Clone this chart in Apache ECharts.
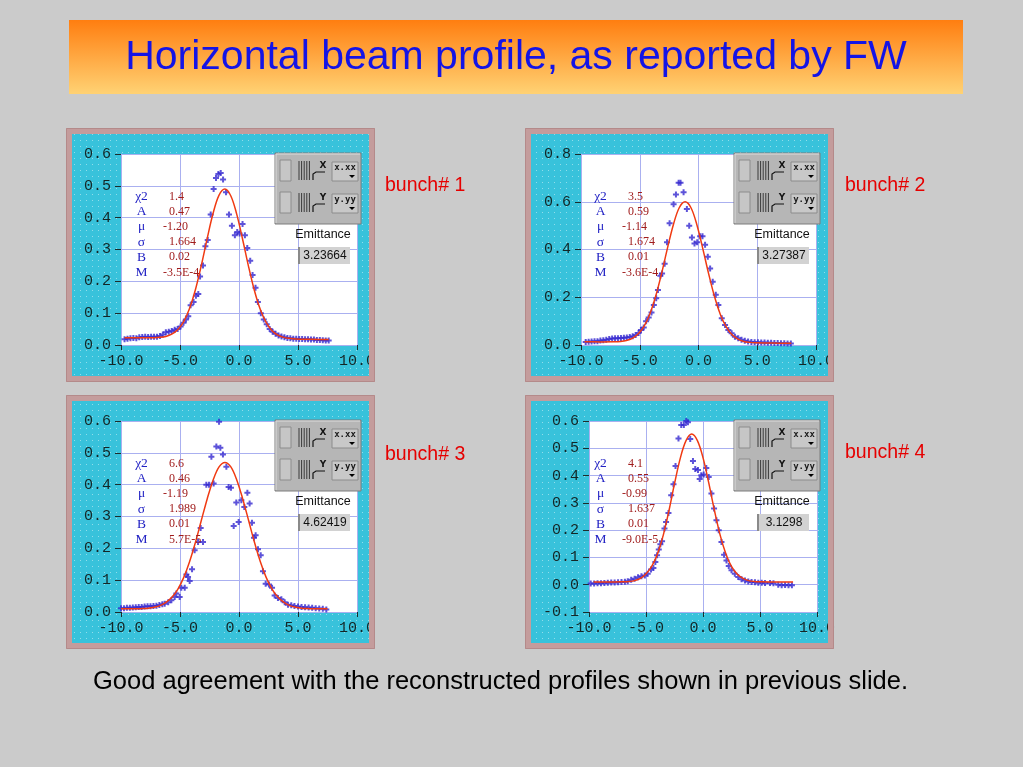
<!DOCTYPE html>
<html><head><meta charset="utf-8">
<script src="https://cdn.jsdelivr.net/npm/echarts@6/dist/echarts.min.js"></script>
<style>html,body{margin:0;padding:0;background:#cbcbcb;} #c{width:1023px;height:767px;}</style>
</head><body><div id="c"></div>
<script>
const titleText = "Horizontal beam profile, as reported by FW";
const footText = "Good agreement with the reconstructed profiles shown in previous slide.";
const bunchLabels = ["bunch# 1", "bunch# 2", "bunch# 3", "bunch# 4"];
const statNames = ["χ2", "A", "μ", "σ", "B", "M"];
const stats1 = ["1.4", "0.47", "-1.20", "1.664", "0.02", "-3.5E-4"];
const stats2 = ["3.5", "0.59", "-1.14", "1.674", "0.01", "-3.6E-4"];
const stats3 = ["6.6", "0.46", "-1.19", "1.989", "0.01", "5.7E-5"];
const stats4 = ["4.1", "0.55", "-0.99", "1.637", "0.01", "-9.0E-5"];
const emittanceLabel = "Emittance";
const emittance = ["3.23664", "3.27387", "4.62419", "3.1298"];
const xMin = -10, xMax = 10, xStep = 5;
const yMin = [0, 0, 0, -0.1];
const yMax = [0.6, 0.8, 0.6, 0.6];
const yStep = [0.1, 0.2, 0.1, 0.1];

const points1 = [[-9.7,0.018],[-9.45,0.020],[-9.2,0.021],[-8.95,0.022],[-8.7,0.021],[-8.45,0.024],[-8.2,0.025],[-7.95,0.026],[-7.7,0.025],[-7.45,0.026],[-7.2,0.026],[-6.95,0.026],[-6.7,0.028],[-6.45,0.033],[-6.2,0.040],[-5.95,0.042],[-5.7,0.044],[-5.45,0.048],[-5.2,0.050],[-4.95,0.058],[-4.7,0.070],[-4.5,0.080],[-4.3,0.090],[-4.1,0.125],[-3.85,0.135],[-3.65,0.155],[-3.45,0.160],[-3.3,0.215],[-3.05,0.250],[-2.85,0.310],[-2.65,0.330],[-2.4,0.410],[-2.15,0.490],[-1.95,0.525],[-1.75,0.537],[-1.55,0.540],[-1.35,0.520],[-1.1,0.480],[-0.85,0.410],[-0.6,0.375],[-0.35,0.345],[-0.15,0.355],[0.05,0.350],[0.3,0.380],[0.5,0.345],[0.7,0.305],[0.95,0.265],[1.15,0.220],[1.4,0.180],[1.6,0.135],[1.85,0.100],[2.1,0.080],[2.35,0.065],[2.6,0.050],[2.85,0.042],[3.1,0.035],[3.35,0.030],[3.6,0.027],[3.85,0.024],[4.1,0.022],[4.35,0.021],[4.6,0.020],[4.85,0.020],[5.1,0.019],[5.35,0.019],[5.6,0.018],[5.85,0.018],[6.1,0.017],[6.35,0.017],[6.6,0.016],[6.85,0.016],[7.1,0.015],[7.35,0.014],[7.6,0.014]];
const fit1 = [[-9.7,0.023],[-8.5,0.023],[-7.2,0.023],[-6.7,0.024],[-6.2,0.027],[-5.7,0.034],[-5.2,0.048],[-4.7,0.073],[-4.2,0.114],[-3.7,0.173],[-3.2,0.249],[-2.7,0.334],[-2.2,0.413],[-1.7,0.470],[-1.2,0.490],[-0.7,0.469],[-0.2,0.412],[0.3,0.333],[0.8,0.248],[1.3,0.172],[1.8,0.112],[2.3,0.071],[2.8,0.045],[3.3,0.031],[3.8,0.024],[4.3,0.021],[4.8,0.019],[6.2,0.018],[7.6,0.017]];

const points2 = [[-9.6,0.013],[-9.35,0.014],[-9.1,0.015],[-8.85,0.016],[-8.6,0.016],[-8.35,0.019],[-8.1,0.020],[-7.85,0.022],[-7.6,0.025],[-7.35,0.027],[-7.1,0.028],[-6.85,0.028],[-6.6,0.029],[-6.35,0.030],[-6.1,0.031],[-5.85,0.033],[-5.6,0.037],[-5.35,0.042],[-5.1,0.050],[-4.9,0.063],[-4.66,0.073],[-4.46,0.100],[-4.24,0.115],[-4.0,0.136],[-3.8,0.168],[-3.6,0.196],[-3.45,0.230],[-3.25,0.290],[-3.1,0.300],[-2.88,0.340],[-2.68,0.430],[-2.46,0.510],[-2.12,0.590],[-1.92,0.630],[-1.69,0.680],[-1.53,0.680],[-1.27,0.640],[-0.99,0.570],[-0.79,0.500],[-0.56,0.450],[-0.34,0.425],[-0.11,0.430],[0.14,0.455],[0.34,0.455],[0.56,0.420],[0.79,0.370],[0.99,0.320],[1.21,0.265],[1.47,0.210],[1.69,0.168],[1.98,0.112],[2.26,0.084],[2.54,0.063],[2.82,0.049],[3.1,0.035],[3.38,0.028],[3.66,0.022],[3.94,0.018],[4.22,0.015],[4.5,0.013],[4.78,0.012],[5.06,0.011],[5.34,0.010],[5.62,0.010],[5.9,0.009],[6.18,0.009],[6.46,0.008],[6.74,0.008],[7.02,0.007],[7.3,0.007],[7.58,0.006],[7.86,0.006]];
const fit2 = [[-9.7,0.0135],[-8.4,0.013],[-7.14,0.0136],[-6.64,0.015],[-6.14,0.019],[-5.64,0.028],[-5.14,0.046],[-4.64,0.078],[-4.14,0.130],[-3.64,0.205],[-3.14,0.300],[-2.64,0.406],[-2.14,0.504],[-1.64,0.575],[-1.14,0.600],[-0.64,0.575],[-0.14,0.504],[0.36,0.405],[0.86,0.299],[1.36,0.203],[1.86,0.128],[2.36,0.076],[2.86,0.043],[3.36,0.025],[3.86,0.015],[4.36,0.011],[4.86,0.009],[6.3,0.008],[7.9,0.007]];

const points3 = [[-10.0,0.012],[-9.75,0.012],[-9.5,0.013],[-9.25,0.013],[-9.0,0.014],[-8.75,0.015],[-8.5,0.016],[-8.25,0.016],[-8.0,0.017],[-7.75,0.018],[-7.5,0.018],[-7.25,0.019],[-7.0,0.020],[-6.75,0.022],[-6.5,0.024],[-6.3,0.026],[-6.0,0.031],[-5.73,0.037],[-5.45,0.047],[-5.31,0.058],[-5.03,0.047],[-4.89,0.076],[-4.6,0.076],[-4.46,0.118],[-4.32,0.110],[-4.18,0.097],[-3.98,0.134],[-3.76,0.194],[-3.47,0.220],[-3.25,0.264],[-3.05,0.220],[-2.77,0.400],[-2.54,0.400],[-2.34,0.488],[-2.15,0.404],[-1.92,0.520],[-1.69,0.598],[-1.58,0.516],[-1.36,0.495],[-1.07,0.456],[-0.88,0.393],[-0.68,0.390],[-0.45,0.270],[-0.23,0.344],[-0.03,0.283],[0.2,0.351],[0.45,0.330],[0.71,0.375],[0.9,0.341],[1.1,0.280],[1.27,0.233],[1.41,0.241],[1.61,0.197],[1.84,0.178],[2.03,0.128],[2.26,0.089],[2.54,0.086],[2.8,0.076],[3.02,0.052],[3.3,0.044],[3.59,0.040],[3.87,0.031],[4.15,0.023],[4.43,0.021],[4.7,0.019],[5.0,0.017],[5.3,0.016],[5.6,0.015],[5.9,0.014],[6.2,0.013],[6.5,0.012],[6.8,0.011],[7.1,0.010],[7.4,0.008]];
const fit3 = [[-10.0,0.010],[-8.69,0.010],[-8.19,0.011],[-7.69,0.012],[-7.19,0.015],[-6.69,0.020],[-6.19,0.030],[-5.69,0.046],[-5.19,0.071],[-4.69,0.108],[-4.19,0.158],[-3.69,0.219],[-3.19,0.288],[-2.69,0.356],[-2.19,0.415],[-1.69,0.456],[-1.19,0.470],[-0.69,0.456],[-0.19,0.415],[0.31,0.356],[0.81,0.288],[1.31,0.219],[1.81,0.158],[2.31,0.108],[2.81,0.071],[3.31,0.046],[3.81,0.030],[4.31,0.020],[4.81,0.015],[5.31,0.012],[5.81,0.011],[6.31,0.010],[7.5,0.010]];

const points4 = [[-9.85,0.004],[-9.55,0.004],[-9.25,0.005],[-8.95,0.005],[-8.65,0.006],[-8.35,0.007],[-8.05,0.008],[-7.75,0.008],[-7.45,0.009],[-7.15,0.010],[-6.85,0.011],[-6.6,0.013],[-6.3,0.018],[-6.0,0.022],[-5.7,0.027],[-5.4,0.031],[-5.1,0.034],[-4.85,0.040],[-4.56,0.056],[-4.35,0.061],[-4.18,0.083],[-4.03,0.108],[-3.88,0.129],[-3.74,0.148],[-3.59,0.159],[-3.38,0.206],[-3.24,0.230],[-3.03,0.263],[-2.79,0.328],[-2.59,0.368],[-2.41,0.435],[-2.15,0.536],[-1.91,0.585],[-1.68,0.585],[-1.47,0.600],[-1.32,0.595],[-1.12,0.534],[-0.88,0.453],[-0.68,0.424],[-0.44,0.420],[-0.29,0.387],[-0.15,0.401],[0.06,0.404],[0.29,0.428],[0.5,0.395],[0.74,0.334],[0.97,0.279],[1.18,0.236],[1.38,0.200],[1.62,0.157],[1.85,0.110],[2.06,0.089],[2.26,0.069],[2.5,0.053],[2.79,0.040],[3.09,0.028],[3.38,0.020],[3.68,0.015],[3.97,0.012],[4.26,0.010],[4.56,0.009],[4.85,0.007],[5.15,0.007],[5.44,0.006],[5.88,0.006],[6.18,0.005],[6.6,0.000],[6.9,-0.002],[7.2,-0.001],[7.5,-0.002],[7.8,-0.002]];
const fit4 = [[-9.6,0.010],[-8.3,0.010],[-6.99,0.011],[-6.49,0.012],[-5.99,0.015],[-5.49,0.023],[-4.99,0.040],[-4.49,0.068],[-3.99,0.113],[-3.49,0.181],[-2.99,0.271],[-2.49,0.372],[-1.99,0.464],[-1.49,0.528],[-0.99,0.552],[-0.49,0.528],[0.01,0.464],[0.51,0.372],[1.01,0.271],[1.51,0.181],[2.01,0.113],[2.51,0.066],[3.01,0.038],[3.51,0.023],[4.01,0.015],[4.51,0.012],[5.01,0.011],[6.4,0.010],[7.9,0.010]];

const pointSets = [points1, points2, points3, points4];
const fitSets = [fit1, fit2, fit3, fit4];
const statSets = [stats1, stats2, stats3, stats4];

// layout (styling only)
const origins = [[66,128],[525,128],[66,395],[525,395]];
const grids = [
  {left:121, top:154, width:236, height:191},
  {left:581, top:154, width:235, height:191},
  {left:121, top:421, width:236, height:191},
  {left:589, top:421, width:228, height:191}
];
const bunchPos = [[385,186],[845,186],[385,455],[845,453]];

const gridColor = '#aab0f0';
const labelColor = '#132626';

// dotted cyan pattern
const pc = document.createElement('canvas');
pc.width = 6; pc.height = 6;
const pctx = pc.getContext('2d');
pctx.fillStyle = '#38c2db'; pctx.fillRect(0,0,6,6);
pctx.fillStyle = 'rgba(255,255,255,0.45)'; pctx.fillRect(2,2,1,1);

const chart = echarts.init(document.getElementById('c'), null, {renderer:'canvas'});

const graphics = [];
// title bar
graphics.push({type:'rect', z:-5, shape:{x:69,y:20,width:894,height:74},
  style:{fill:new echarts.graphic.LinearGradient(0,0,0,1,[{offset:0,color:'#ff7e10'},{offset:1,color:'#ffd274'}])}});
graphics.push({type:'text', z:5, x:516, y:58, style:{text:titleText, fill:'#1414e6', font:'41px "Liberation Sans", Arial, sans-serif', align:'center', verticalAlign:'middle'}});
graphics.push({type:'text', z:5, x:93, y:682, style:{text:footText, fill:'#000000', font:'25.5px "Liberation Sans", Arial, sans-serif', align:'left', verticalAlign:'middle'}});

for (let i = 0; i < 4; i++) {
  const [ox, oy] = origins[i];
  graphics.push({type:'rect', z:-10, shape:{x:ox,y:oy,width:309,height:254}, style:{fill:{image:pc, repeat:'repeat'}}});
  graphics.push({type:'rect', z:100, shape:{x:ox+3,y:oy+3,width:303,height:248}, style:{fill:null, stroke:'#c49c9c', lineWidth:6}});
  graphics.push({type:'rect', z:101, shape:{x:ox+0.5,y:oy+0.5,width:308,height:253}, style:{fill:null, stroke:'#b48a8a', lineWidth:1}});
  // stats
  for (let j = 0; j < statNames.length; j++) {
    const yy = oy + 68.5 + j*15.2;
    graphics.push({type:'text', z:50, x:ox+75.5, y:yy, style:{text:statNames[j], fill:'#2222c4', font:'13.5px "Liberation Serif", "DejaVu Serif", serif', align:'center', verticalAlign:'middle'}});
    const v = statSets[i][j];
    graphics.push({type:'text', z:50, x:ox + (v.charAt(0) === '-' ? 97 : 103), y:yy, style:{text:v, fill:'#a01c1c', font:'12px "Liberation Serif", "DejaVu Serif", serif', align:'left', verticalAlign:'middle'}});
  }
  // widget
  graphics.push({type:'rect', z:50, shape:{x:ox+209,y:oy+25,width:86,height:71}, style:{fill:'#b6b6b6', stroke:'#7c7c7c', lineWidth:1}});
  graphics.push({type:'polyline', z:51, shape:{points:[[ox+210,oy+95],[ox+210,oy+26],[ox+294,oy+26]]}, style:{stroke:'#dcdcdc', lineWidth:1, fill:null}});
  for (let r = 0; r < 2; r++) {
    const dy = r*32;
    graphics.push({type:'rect', z:51, shape:{x:ox+214,y:oy+32+dy,width:11,height:21}, style:{fill:'#c6c6c6', stroke:'#8c8c8c', lineWidth:1}});
    for (let k = 0; k < 5; k++) {
      graphics.push({type:'line', z:51, shape:{x1:ox+233+k*2.6,y1:oy+33+dy,x2:ox+233+k*2.6,y2:oy+52+dy}, style:{stroke:'#3a3a3a', lineWidth:1}});
    }
    graphics.push({type:'polyline', z:51, shape:{points:[[ox+247,oy+52+dy],[ox+247,oy+46+dy],[ox+250,oy+44+dy],[ox+259,oy+44+dy]]}, style:{stroke:'#111', lineWidth:1.2, fill:null}});
    graphics.push({type:'text', z:51, x:ox+257, y:oy+38+dy, style:{text: r === 0 ? 'X' : 'Y', fill:'#111', font:'bold 9px "DejaVu Sans", sans-serif', align:'center', verticalAlign:'middle'}});
    graphics.push({type:'rect', z:51, shape:{x:ox+266,y:oy+34+dy,width:26,height:19}, style:{fill:'#c8c8c8', stroke:'#8c8c8c', lineWidth:1}});
    graphics.push({type:'text', z:52, x:ox+279, y:oy+40+dy, style:{text: r === 0 ? 'x.xx' : 'y.yy', fill:'#1a1a1a', font:'bold 9px "DejaVu Sans Mono", monospace', align:'center', verticalAlign:'middle'}});
    graphics.push({type:'polygon', z:52, shape:{points:[[ox+283,oy+47+dy],[ox+289,oy+47+dy],[ox+286,oy+50+dy]]}, style:{fill:'#000'}});
  }
  // emittance
  graphics.push({type:'text', z:50, x:ox+257, y:oy+107, style:{text:emittanceLabel, fill:'#111', font:'12.5px "Liberation Sans", Arial, sans-serif', align:'center', verticalAlign:'middle'}});
  graphics.push({type:'rect', z:50, shape:{x:ox+232,y:oy+119,width:52,height:17}, style:{fill:'#d2d2d2'}});
  graphics.push({type:'rect', z:51, shape:{x:ox+232,y:oy+119,width:2,height:17}, style:{fill:'#8a8a8a'}});
  graphics.push({type:'text', z:52, x:ox+259, y:oy+128, style:{text:emittance[i], fill:'#111', font:'12px "Liberation Sans", Arial, sans-serif', align:'center', verticalAlign:'middle'}});
  // bunch label
  graphics.push({type:'text', z:50, x:bunchPos[i][0], y:bunchPos[i][1], style:{text:bunchLabels[i], fill:'#e60000', font:'19.5px "Liberation Sans", Arial, sans-serif', align:'left', verticalAlign:'middle'}});
}

const plus = 'path://M1,0L2,0L2,1L3,1L3,2L2,2L2,3L1,3L1,2L0,2L0,1L1,1Z';

const option = {
  animation: false,
  backgroundColor: '#cbcbcb',
  grid: grids.map(g => Object.assign({show:true, backgroundColor:'#ffffff', borderWidth:0}, g)),
  xAxis: grids.map((g, i) => ({
    gridIndex: i, type: 'value', min: xMin, max: xMax, interval: xStep,
    axisLine: {show:true, onZero:false, lineStyle:{color:gridColor}},
    axisTick: {show:true, length:5, lineStyle:{color:'#1c2c2c'}},
    axisLabel: {fontFamily:'"Liberation Mono", monospace', fontSize:15, color:labelColor, margin:9, formatter: v => v.toFixed(1)},
    splitLine: {show:true, lineStyle:{color:gridColor, width:1}}
  })),
  yAxis: grids.map((g, i) => ({
    gridIndex: i, type: 'value', min: yMin[i], max: yMax[i], interval: yStep[i],
    axisLine: {show:true, onZero:false, lineStyle:{color:gridColor}},
    axisTick: {show:true, length:6, lineStyle:{color:'#1c2c2c'}},
    axisLabel: {fontFamily:'"Liberation Mono", monospace', fontSize:15, color:labelColor, margin:10, formatter: v => v.toFixed(1)},
    splitLine: {show:true, lineStyle:{color:gridColor, width:1}}
  })),
  series: [].concat(
    pointSets.map((d, i) => ({type:'scatter', xAxisIndex:i, yAxisIndex:i, data:d, symbol:plus, symbolSize:6, itemStyle:{color:'#3428d0'}, z:3})),
    fitSets.map((d, i) => ({type:'line', xAxisIndex:i, yAxisIndex:i, data:d, smooth:0.35, showSymbol:false, lineStyle:{color:'#f03a12', width:1.5}, z:4}))
  ),
  graphic: {elements: graphics}
};
chart.setOption(option);
</script>
</body></html>
